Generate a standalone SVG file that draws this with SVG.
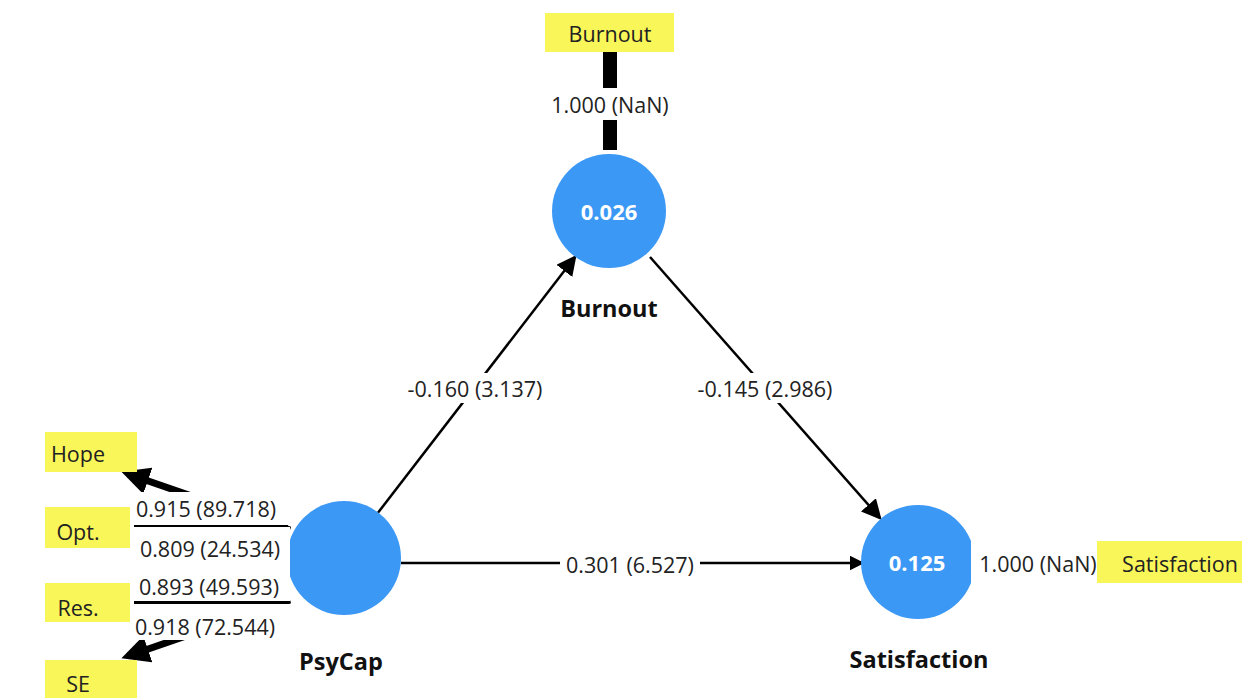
<svg xmlns="http://www.w3.org/2000/svg" width="1242" height="698" viewBox="0 0 1242 698">
<style>
.lv{fill:#3b98f5}
.ind{fill:#f9f65a}
.t{font-family:"Open Sans","Noto Sans",sans-serif;font-size:21.5px;fill:#222;text-anchor:middle;dominant-baseline:central}
.b{font-family:"Open Sans","Noto Sans",sans-serif;font-size:23.5px;font-weight:bold;fill:#111;text-anchor:middle;dominant-baseline:central}
.v{font-family:"Open Sans","Noto Sans",sans-serif;font-size:22px;font-weight:bold;fill:#fff;text-anchor:middle;dominant-baseline:central}
.bg{fill:#fff}
.path{stroke:#000;stroke-width:2.5;fill:none}
.load{stroke:#000;fill:none}
</style>
<defs>
<marker id="ah" markerWidth="8" markerHeight="8" refX="7" refY="4" orient="auto" markerUnits="strokeWidth">
<path d="M0,0 L8,4 L0,8 Z" fill="#000"/>
</marker>
<marker id="ah2" markerWidth="6" markerHeight="6" refX="5" refY="3" orient="auto" markerUnits="strokeWidth">
<path d="M0,0 L6,3 L0,6 Z" fill="#000"/>
</marker>
<marker id="ahL" markerWidth="4" markerHeight="4" refX="3" refY="2" orient="auto" markerUnits="strokeWidth">
<path d="M0,0 L4,2 L0,4 Z" fill="#000"/>
</marker>
</defs>
<rect width="1242" height="698" fill="#fff"/>

<g id="connectors">
<line class="path" x1="377" y1="514" x2="575" y2="257" marker-end="url(#ah)"/>
<line class="path" x1="650" y1="257" x2="880" y2="518" marker-end="url(#ah)"/>
<line class="path" x1="401" y1="563" x2="862" y2="563" stroke-width="3.5" marker-end="url(#ah2)"/>
<line class="load" x1="610" y1="150" x2="610" y2="52" stroke-width="14"/>
<line class="load" x1="290" y1="530" x2="128" y2="474" stroke-width="7" marker-end="url(#ahL)"/>
<line class="load" x1="288" y1="526" x2="134" y2="526" stroke-width="4"/>
<line class="load" x1="288" y1="602" x2="134" y2="603" stroke-width="4"/>
<line class="load" x1="290" y1="600" x2="128" y2="656" stroke-width="7" marker-end="url(#ahL)"/>
<line class="load" x1="975" y1="563" x2="1097" y2="563" stroke-width="4"/>
</g>

<g id="PsyCap">
<circle class="lv" cx="344" cy="558" r="57"/>
<text class="b" x="341" y="661">PsyCap</text>
</g>
<g id="Burnout">
<circle class="lv" cx="609" cy="211" r="57"/>
<text class="v" x="609" y="211">0.026</text>
<text class="b" x="609" y="308">Burnout</text>
</g>
<g id="Satisfaction">
<circle class="lv" cx="918" cy="562" r="57"/>
<text class="v" x="917" y="562">0.125</text>
<text class="b" x="919" y="659">Satisfaction</text>
</g>

<g id="ind-Burnout">
<rect class="ind" x="545" y="13" width="129" height="39"/>
<text class="t" x="610" y="33">Burnout</text>
</g>
<g id="ind-Hope">
<rect class="ind" x="45" y="432" width="92" height="40"/>
<text class="t" x="78" y="453">Hope</text>
</g>
<g id="ind-Opt">
<rect class="ind" x="45" y="507" width="85" height="41"/>
<text class="t" x="78" y="531">Opt.</text>
</g>
<g id="ind-Res">
<rect class="ind" x="45" y="583" width="85" height="39"/>
<text class="t" x="78" y="607">Res.</text>
</g>
<g id="ind-SE">
<rect class="ind" x="45" y="660" width="92" height="38"/>
<text class="t" x="78" y="683">SE</text>
</g>
<g id="ind-Satisfaction">
<rect class="ind" x="1097" y="541" width="145" height="42"/>
<text class="t" x="1180" y="563">Satisfaction</text>
</g>

<g id="labels">
<rect class="bg" x="545" y="88" width="130" height="32"/>
<text class="t" x="610" y="104">1.000 (NaN)</text>
<rect class="bg" x="400" y="373" width="150" height="30"/>
<text class="t" x="475" y="388">-0.160 (3.137)</text>
<rect class="bg" x="690" y="373" width="150" height="30"/>
<text class="t" x="765" y="388">-0.145 (2.986)</text>
<rect class="bg" x="560" y="549" width="140" height="30"/>
<text class="t" x="630" y="564">0.301 (6.527)</text>
<rect class="bg" x="971" y="541" width="126" height="42"/>
<text class="t" x="1038" y="563">1.000 (NaN)</text>
<rect class="bg" x="130" y="492" width="160" height="33"/>
<text class="t" x="206" y="508">0.915 (89.718)</text>
<rect class="bg" x="134" y="527" width="156" height="39"/>
<text class="t" x="210" y="548">0.809 (24.534)</text>
<rect class="bg" x="134" y="566" width="156" height="35"/>
<text class="t" x="209" y="586">0.893 (49.593)</text>
<rect class="bg" x="130" y="604" width="160" height="36"/>
<text class="t" x="205" y="626">0.918 (72.544)</text>
</g>
</svg>
